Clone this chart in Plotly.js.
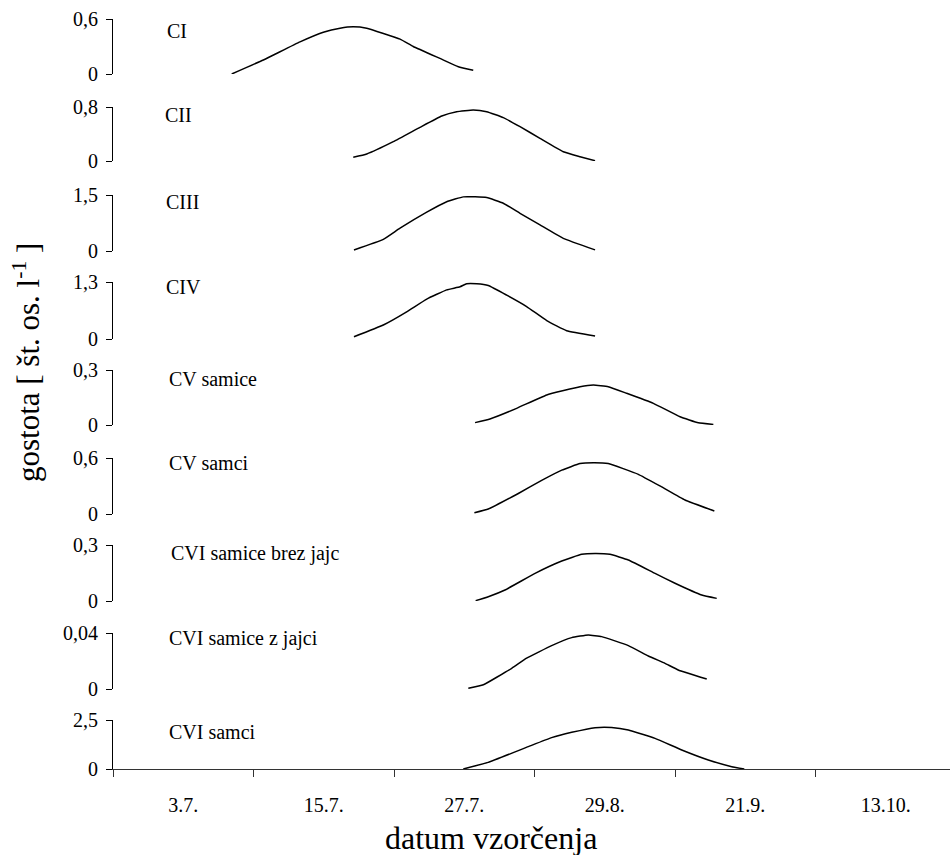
<!DOCTYPE html>
<html>
<head>
<meta charset="utf-8">
<script src="https://cdn.plot.ly/plotly-3.0.1.min.js"></script>
<style>
  html, body { margin: 0; padding: 0; background: #fff; overflow: hidden; }
  #chart { width: 950px; height: 855px; }
</style>
</head>
<body>
<div id="chart"></div>
<script>
// Sampling dates (category labels on the shared x axis)
const dateLabels = ['3.7.', '15.7.', '27.7.', '29.8.', '21.9.', '13.10.'];

// Developmental stages, one panel each
const stageNames = ['CI', 'CII', 'CIII', 'CIV', 'CV samice', 'CV samci',
  'CVI samice brez jajc', 'CVI samice z jajci', 'CVI samci'];

// Upper tick of each panel's density axis
const axisMax = [0.6, 0.8, 1.5, 1.3, 0.3, 0.6, 0.3, 0.04, 2.5];
const axisMaxText = ['0,6', '0,8', '1,5', '1,3', '0,3', '0,6', '0,3', '0,04', '2,5'];

// Density [ind. per litre] over time, x in date-category units
const ciX = [0.845, 1.070, 1.331, 1.497, 1.616, 1.710, 1.806, 2.043, 2.137, 2.327, 2.458, 2.564];
const ciY = [0.0, 0.153, 0.35, 0.455, 0.50, 0.516, 0.50, 0.38, 0.30, 0.17, 0.08, 0.04];

const ciiX = [1.710, 1.806, 1.995, 2.185, 2.340, 2.446, 2.564, 2.660, 2.778, 2.897, 3.039, 3.205, 3.324, 3.431];
const ciiY = [0.055, 0.104, 0.286, 0.499, 0.667, 0.730, 0.756, 0.730, 0.642, 0.508, 0.336, 0.138, 0.064, 0.004];

const ciiiX = [1.715, 1.924, 2.043, 2.233, 2.375, 2.493, 2.577, 2.660, 2.778, 2.897, 3.039, 3.205, 3.431];
const ciiiY = [0.027, 0.31, 0.61, 1.04, 1.32, 1.45, 1.45, 1.43, 1.28, 1.01, 0.70, 0.34, 0.03];

const civX = [1.715, 1.924, 2.090, 2.233, 2.375, 2.470, 2.517, 2.589, 2.671, 2.802, 2.944, 3.087, 3.229, 3.431];
const civY = [0.053, 0.32, 0.62, 0.91, 1.12, 1.19, 1.26, 1.26, 1.22, 1.00, 0.74, 0.42, 0.19, 0.07];

const cvFemX = [2.577, 2.683, 2.873, 3.087, 3.324, 3.419, 3.525, 3.656, 3.846, 4.036, 4.166, 4.273];
const cvFemY = [0.013, 0.033, 0.091, 0.164, 0.209, 0.218, 0.209, 0.173, 0.118, 0.045, 0.012, 0.003];

const cvMaleX = [2.572, 2.671, 2.885, 3.051, 3.194, 3.324, 3.419, 3.525, 3.739, 3.905, 4.071, 4.280];
const cvMaleY = [0.014, 0.054, 0.22, 0.36, 0.47, 0.54, 0.55, 0.54, 0.425, 0.29, 0.15, 0.032];

const cviFemNoEggX = [2.581, 2.671, 2.790, 3.004, 3.194, 3.336, 3.431, 3.537, 3.668, 3.858, 4.000, 4.190, 4.297];
const cviFemNoEggY = [0.002, 0.023, 0.059, 0.148, 0.214, 0.25, 0.255, 0.25, 0.22, 0.148, 0.095, 0.032, 0.014];

const cviFemEggX = [2.529, 2.636, 2.838, 2.944, 3.122, 3.265, 3.383, 3.478, 3.668, 3.810, 3.929, 4.023, 4.226];
const cviFemEggY = [0.0005, 0.003, 0.0148, 0.022, 0.031, 0.0367, 0.0386, 0.0374, 0.031, 0.0236, 0.0183, 0.0136, 0.0071];

const cviMaleX = [2.493, 2.671, 2.956, 3.122, 3.265, 3.431, 3.549, 3.668, 3.858, 4.048, 4.237, 4.404, 4.493];
const cviMaleY = [0.0, 0.34, 1.14, 1.60, 1.87, 2.11, 2.12, 1.99, 1.56, 0.97, 0.46, 0.12, 0.0];

const seriesX = [ciX, ciiX, ciiiX, civX, cvFemX, cvMaleX, cviFemNoEggX, cviFemEggX, cviMaleX];
const seriesY = [ciY, ciiY, ciiiY, civY, cvFemY, cvMaleY, cviFemNoEggY, cviFemEggY, cviMaleY];

// ---- layout geometry (pixels) ----
const W = 950, H = 855, ML = 113, MR = 0;
const plotW = W - ML - MR;
const catPx = 140.5;                      // width of one date category
const px2x = px => (px - ML) / plotW;     // pixel -> paper x
const py2y = py => 1 - py / H;            // pixel -> paper y

// vertical extent [top, bottom] of each panel
const panelBands = [[19, 74], [107, 161], [195, 251], [282, 339], [370, 425],
  [458, 514], [545, 601], [633, 689], [720, 769]];
// left edge and vertical centre of each panel caption
const captionPos = [[165, 31], [163, 115], [164, 202], [164, 287], [167, 379],
  [167, 463], [169, 553], [167, 638], [167, 732]];

const serif = "'Liberation Serif', 'Times New Roman', serif";
const tickFont = { family: serif, size: 20, color: '#000' };

const traces = [];
const layout = {
  width: W, height: H,
  margin: { l: ML, r: MR, t: 0, b: 0 },
  paper_bgcolor: '#fff', plot_bgcolor: 'rgba(0,0,0,0)',
  showlegend: false,
  annotations: [],
  xaxis: {
    anchor: 'y9', domain: [0, 1],
    range: [0, plotW / catPx],
    tickmode: 'array',
    tickvals: dateLabels.map((_, i) => i + 0.5),
    ticktext: dateLabels,
    ticks: '',
    ticklabelstandoff: 18,
    tickfont: tickFont,
    minor: { tickmode: 'linear', tick0: 0, dtick: 1, ticks: 'outside', ticklen: 7, tickcolor: '#333', tickwidth: 1, showgrid: false },
    showline: true, linecolor: '#333', linewidth: 1.2,
    showgrid: false, zeroline: false, fixedrange: true
  }
};

stageNames.forEach((name, i) => {
  const yName = i === 0 ? 'y' : 'y' + (i + 1);
  const yKey = i === 0 ? 'yaxis' : 'yaxis' + (i + 1);
  const [top, bottom] = panelBands[i];
  layout[yKey] = {
    anchor: 'x',
    domain: [py2y(bottom), py2y(top)],
    range: [0, axisMax[i]],
    tickmode: 'array',
    tickvals: [0, axisMax[i]],
    ticktext: ['0', axisMaxText[i]],
    ticks: 'outside', ticklen: 6, tickcolor: '#000', tickwidth: 1,
    ticklabelstandoff: 4,
    tickfont: tickFont,
    showline: true, linecolor: '#000', linewidth: 1,
    showgrid: false, zeroline: false, fixedrange: true
  };
  traces.push({
    type: 'scatter', mode: 'lines',
    x: seriesX[i], y: seriesY[i],
    xaxis: 'x', yaxis: yName,
    line: { color: '#000', width: 1.5, shape: 'spline', smoothing: 0.35 },
    cliponaxis: false, hoverinfo: 'skip', name: name
  });
  layout.annotations.push({
    text: name, showarrow: false,
    xref: 'paper', yref: 'paper',
    x: px2x(captionPos[i][0]), y: py2y(captionPos[i][1]),
    xanchor: 'left', yanchor: 'middle',
    font: { family: serif, size: 20, color: '#000' }
  });
});

// axis titles
layout.annotations.push({
  text: 'gostota [ št. os. l<sup>-1</sup> ]', showarrow: false,
  xref: 'paper', yref: 'paper',
  x: px2x(26), y: py2y(363), xanchor: 'center', yanchor: 'middle',
  textangle: -90,
  font: { family: serif, size: 31, color: '#000' }
});
layout.annotations.push({
  text: 'datum vzorčenja', showarrow: false,
  xref: 'paper', yref: 'paper',
  x: px2x(491), y: py2y(838), xanchor: 'center', yanchor: 'middle',
  font: { family: serif, size: 32, color: '#000' }
});

Plotly.newPlot('chart', traces, layout, { staticPlot: true, displayModeBar: false });
</script>
</body>
</html>
